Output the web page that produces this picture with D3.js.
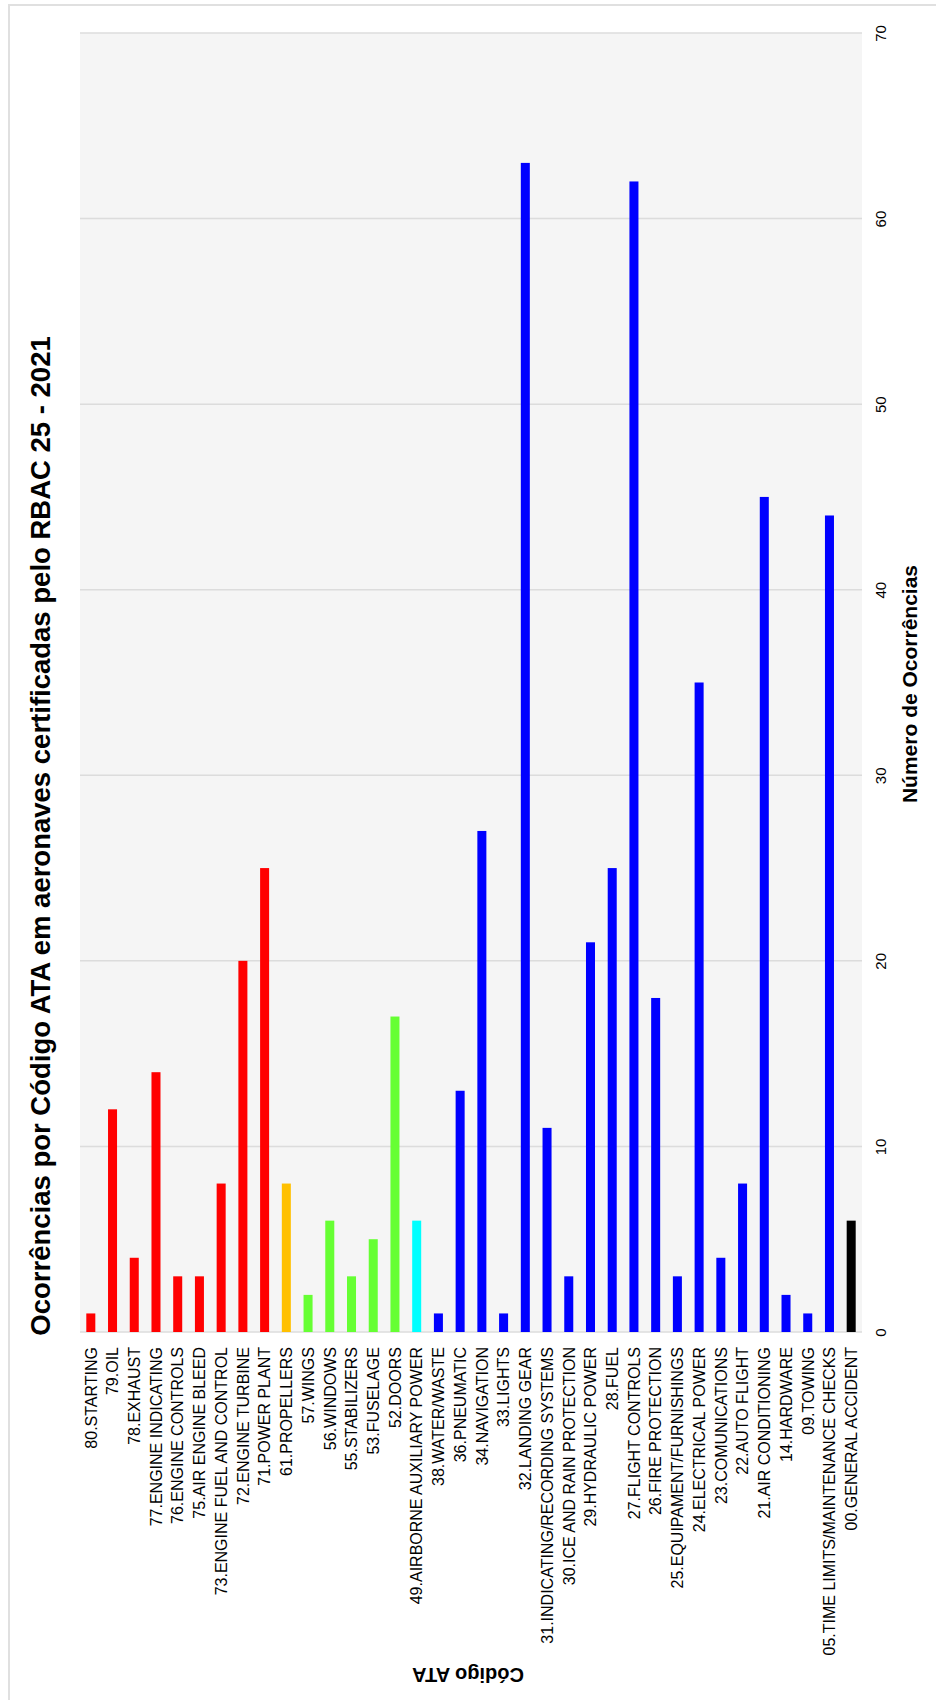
<!DOCTYPE html>
<html>
<head>
<meta charset="utf-8">
<script src="https://cdn.jsdelivr.net/npm/d3@7"></script>
<style>
  body { margin: 0; background: #fff; }
  svg { display: block; font-family: "Liberation Sans", Arial, sans-serif; }
</style>
</head>
<body>
<svg width="936" height="1700"></svg>
<script>
let categories = ['80.STARTING', '79.OIL', '78.EXHAUST', '77.ENGINE INDICATING', '76.ENGINE CONTROLS',
    '75.AIR ENGINE BLEED', '73.ENGINE FUEL AND CONTROL', '72.ENGINE TURBINE', '71.POWER PLANT',
    '61.PROPELLERS', '57.WINGS', '56.WINDOWS', '55.STABILIZERS', '53.FUSELAGE', '52.DOORS',
    '49.AIRBORNE AUXILIARY POWER', '38.WATER/WASTE', '36.PNEUMATIC', '34.NAVIGATION', '33.LIGHTS',
    '32.LANDING GEAR', '31.INDICATING/RECORDING SYSTEMS', '30.ICE AND RAIN PROTECTION',
    '29.HYDRAULIC POWER', '28.FUEL', '27.FLIGHT CONTROLS', '26.FIRE PROTECTION',
    '25.EQUIPAMENT/FURNISHINGS', '24.ELECTRICAL POWER', '23.COMUNICATIONS', '22.AUTO FLIGHT',
    '21.AIR CONDITIONING', '14.HARDWARE', '09.TOWING', '05.TIME LIMITS/MAINTENANCE CHECKS',
    '00.GENERAL ACCIDENT'];
let occurrences = [1, 12, 4, 14, 3, 3, 8, 20, 25, 8, 2, 6, 3, 5, 17, 6, 1, 13, 27, 1, 63, 11, 3, 21, 25,
    62, 18, 3, 35, 4, 8, 45, 2, 1, 44, 6];
// group of each code -> colour
let groups = ['engine', 'engine', 'engine', 'engine', 'engine', 'engine', 'engine', 'engine', 'engine',
    'propeller', 'structure', 'structure', 'structure', 'structure', 'structure', 'apu',
    'systems', 'systems', 'systems', 'systems', 'systems', 'systems', 'systems', 'systems', 'systems',
    'systems', 'systems', 'systems', 'systems', 'systems', 'systems', 'systems', 'systems', 'systems',
    'systems', 'general'];
let valueTicks = [0, 10, 20, 30, 40, 50, 60, 70];

let colors = {
    engine: '#ff0000', propeller: '#ffc000', structure: '#66ff33',
    apu: '#00ffff', systems: '#0000ff', general: '#000000'
};

let data = categories.map((c, i) => ({ name: c, value: occurrences[i], group: groups[i] }));

let plotLeft = 80, plotRight = 862, plotTop = 33, plotBottom = 1332;
let svg = d3.select('svg');

// outer frame
svg.append('rect')
    .attr('x', 9).attr('y', 5)
    .attr('width', 960).attr('height', 1720)
    .attr('fill', '#fff')
    .attr('stroke', '#e0e0e0')
    .attr('stroke-width', 2);

svg.append('rect')
    .attr('x', plotLeft).attr('y', plotTop)
    .attr('width', plotRight - plotLeft).attr('height', plotBottom - plotTop)
    .attr('fill', '#f5f5f5');

let yScale = d3.scaleLinear()
    .domain([0, 70])
    .range([plotBottom, plotTop]);

let xScale = d3.scaleBand()
    .domain(categories)
    .range([plotLeft, plotRight])
    .paddingInner(0.585)
    .paddingOuter(0.29);

// gridlines
svg.append('g')
    .selectAll('line')
    .data(valueTicks)
    .enter()
    .append('line')
    .attr('x1', plotLeft).attr('x2', plotRight)
    .attr('y1', (d) => yScale(d)).attr('y2', (d) => yScale(d))
    .attr('stroke', '#dcdcdc')
    .attr('stroke-width', 1.5);

// value axis (right side, labels rotated)
let yAxis = svg.append('g')
    .attr('transform', `translate(${plotRight}, 0)`)
    .call(d3.axisRight(yScale).tickValues(valueTicks).tickSize(0));
yAxis.select('.domain').remove();
yAxis.selectAll('text')
    .attr('transform', 'rotate(-90)')
    .attr('x', 0)
    .attr('y', 24)
    .attr('dy', 0)
    .attr('text-anchor', 'middle')
    .style('font-size', '15px')
    .style('font-family', '"Liberation Sans", Arial, sans-serif')
    .attr('fill', '#000');

// category axis (bottom, labels rotated)
let xAxis = svg.append('g')
    .attr('transform', `translate(0, ${plotBottom})`)
    .call(d3.axisBottom(xScale).tickSize(0));
xAxis.select('.domain').remove();
xAxis.selectAll('text')
    .attr('transform', 'rotate(-90)')
    .attr('x', -15)
    .attr('y', 0)
    .attr('dy', '0.36em')
    .attr('text-anchor', 'end')
    .style('font-size', '16px')
    .style('font-family', '"Liberation Sans", Arial, sans-serif')
    .attr('fill', '#000');

// bars
svg.append('g')
    .selectAll('rect')
    .data(data)
    .enter()
    .append('rect')
    .attr('x', (d) => xScale(d.name))
    .attr('y', (d) => yScale(d.value))
    .attr('width', xScale.bandwidth())
    .attr('height', (d) => yScale(0) - yScale(d.value))
    .attr('fill', (d) => colors[d.group]);

// titles
svg.append('text')
    .attr('transform', 'translate(50, 836) rotate(-90)')
    .attr('text-anchor', 'middle')
    .style('font-size', '27.5px')
    .style('font-weight', 'bold')
    .text('Ocorrências por Código ATA em aeronaves certificadas pelo RBAC 25 - 2021');

svg.append('text')
    .attr('transform', 'translate(917, 684) rotate(-90)')
    .attr('text-anchor', 'middle')
    .style('font-size', '21px')
    .style('font-weight', 'bold')
    .text('Número de Ocorrências');

svg.append('text')
    .attr('transform', 'translate(468, 1668) rotate(180)')
    .attr('text-anchor', 'middle')
    .style('font-size', '20px')
    .style('font-weight', 'bold')
    .text('Código ATA');
</script>
</body>
</html>
